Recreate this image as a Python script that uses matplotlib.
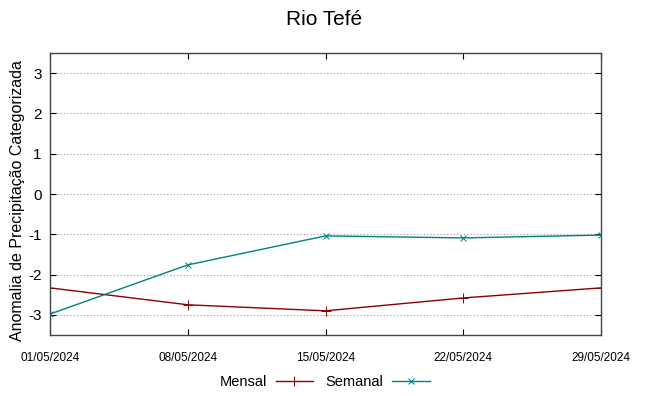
import matplotlib
matplotlib.use("Agg")
import matplotlib.pyplot as plt
from matplotlib.ticker import MultipleLocator

plt.rcParams['font.family'] = ['Liberation Sans', 'DejaVu Sans']
plt.rcParams['axes.unicode_minus'] = False

dates = ["01/05/2024", "08/05/2024", "15/05/2024", "22/05/2024", "29/05/2024"]
mensal = [-2.33, -2.75, -2.90, -2.58, -2.33]
semanal = [-2.98, -1.76, -1.04, -1.09, -1.02]

fig = plt.figure(figsize=(6.49, 3.96), dpi=100)
ax = fig.add_axes([50/649, 61/396, 551/649, 282/396])

x = list(range(len(dates)))
ax.plot(x, mensal, color='#8b0000', lw=1.0, marker='+', ms=7, mew=0.7, label='Mensal')
ax.plot(x, semanal, color='#008080', lw=1.0, marker='x', ms=5, mew=0.7, label='Semanal')

ax.set_xlim(0, 4)
ax.set_ylim(-3.5, 3.5)
ax.set_xticks(x)
ax.set_xticklabels(dates, fontsize=8.5)
ax.yaxis.set_major_locator(MultipleLocator(1))
ax.tick_params(axis='y', labelsize=11, direction='in', right=True, length=4, pad=6)
ax.tick_params(axis='x', direction='in', top=True, length=4, pad=12)
ax.grid(axis='y', color='#999999', linestyle=(0, (1, 2)), lw=0.8)
for s in ax.spines.values():
    s.set_color('#444444')
    s.set_linewidth(1.0)

ax.set_ylabel('Anomalia de Precipitação Categorizada', fontsize=11.5)
ax.yaxis.set_label_coords(-0.045, 0.475)
fig.text(0.5, 0.95, 'Rio Tefé', ha='center', va='center', fontsize=15)

leg = fig.legend(loc='center', bbox_to_anchor=(0.5, 0.035), ncol=2, frameon=False,
                 markerfirst=False, handlelength=2.6, fontsize=10.5, columnspacing=0.8,
                 handletextpad=0.6)

fig.savefig('out.png', dpi=100)
